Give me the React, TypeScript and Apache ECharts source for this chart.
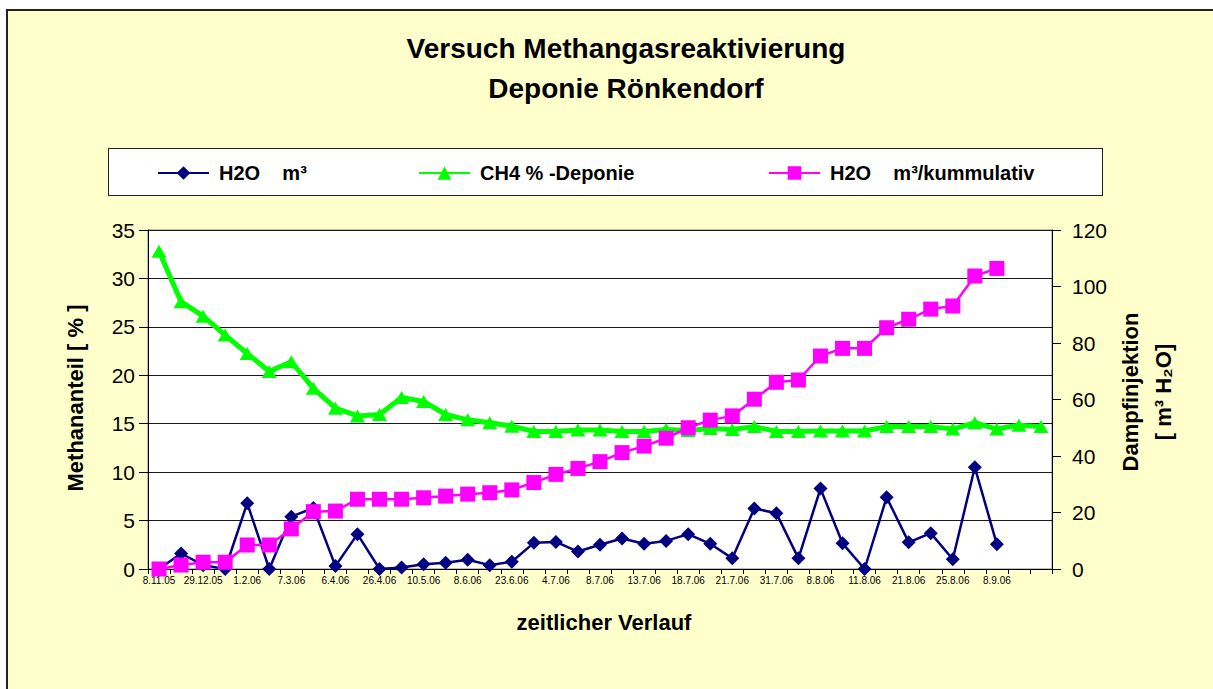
import React, { useEffect, useRef } from "react";
import * as echarts from "echarts";

const categories = [
  "8.11.05", "", "29.12.05", "", "1.2.06", "", "7.3.06", "", "6.4.06", "", "26.4.06", "",
  "10.5.06", "", "8.6.06", "", "23.6.06", "", "4.7.06", "", "8.7.06", "", "13.7.06", "",
  "18.7.06", "", "21.7.06", "", "31.7.06", "", "8.8.06", "", "11.8.06", "", "21.8.06", "",
  "25.8.06", "", "8.9.06", "", "",
];

const h2oM3 = [
  0, 1.6, 0.4, 0, 6.8, 0, 5.4, 6.3, 0.3, 3.6, 0, 0.15, 0.5, 0.65, 0.95, 0.4, 0.75, 2.7,
  2.8, 1.8, 2.5, 3.15, 2.6, 2.9, 3.6, 2.6, 1.1, 6.25, 5.75, 1.1, 8.3, 2.65, 0, 7.4, 2.75,
  3.7, 1.0, 10.5, 2.55,
];

const ch4Deponie = [
  32.8, 27.6, 26.1, 24.15, 22.25, 20.4, 21.4, 18.65, 16.6, 15.8, 15.95, 17.7, 17.3, 15.95,
  15.4, 15.1, 14.75, 14.2, 14.2, 14.35, 14.35, 14.2, 14.2, 14.4, 14.3, 14.5, 14.4, 14.7,
  14.2, 14.2, 14.25, 14.25, 14.25, 14.7, 14.7, 14.7, 14.45, 15.1, 14.45, 14.85, 14.7,
];

const h2oKumulativ = [
  0, 1.4, 2.4, 2.4, 8.5, 8.5, 14.2, 20.3, 20.5, 24.7, 24.7, 24.7, 25.2, 25.8, 26.5, 27.0,
  28.0, 30.6, 33.5, 35.6, 38.0, 41.2, 43.5, 46.3, 50.0, 52.7, 54.2, 60.1, 66.1, 66.9, 75.4,
  78.1, 78.1, 85.4, 88.4, 92.0, 93.1, 103.7, 106.4,
];

const seriesNames = ["H2O    m³", "CH4 % -Deponie", "H2O    m³/kummulativ"];
const titleText = "Versuch Methangasreaktivierung\nDeponie Rönkendorf";
const leftAxisName = "Methananteil [ % ]";
const rightAxisName = "Dampfinjektion\n[ m³ H₂O]";
const xAxisName = "zeitlicher Verlauf";

const FONT = "'Liberation Sans', Arial, sans-serif";

export default function App() {
  const ref = useRef<HTMLDivElement>(null);

  useEffect(() => {
    if (!ref.current) return;
    const chart = echarts.init(ref.current, null, { renderer: "svg" });

    const legendText = {
      fontSize: 20,
      fontWeight: "bold" as const,
      color: "#000",
      fontFamily: FONT,
      padding: [0, 0, 0, 5],
    };
    const legendBase = {
      top: 158,
      itemWidth: 51,
      itemHeight: 17,
      selectedMode: false,
      textStyle: legendText,
    };

    const option: any = {
      animation: false,
      textStyle: { fontFamily: FONT },
      grid: {
        left: 148,
        top: 230,
        width: 904,
        height: 339,
        show: true,
        backgroundColor: "#ffffff",
        borderColor: "#808080",
        borderWidth: 1,
      },
      legend: [
        { ...legendBase, left: 152, data: [seriesNames[0]] },
        { ...legendBase, left: 413, data: [seriesNames[1]] },
        { ...legendBase, left: 763, data: [seriesNames[2]] },
      ],
      xAxis: {
        type: "category",
        data: categories,
        boundaryGap: true,
        axisLine: { show: true, lineStyle: { color: "#000", width: 1 } },
        axisTick: { show: true, interval: 0, length: 5, lineStyle: { color: "#000" } },
        axisLabel: { interval: 0, fontSize: 10, color: "#000", margin: 6, fontFamily: FONT },
        splitLine: { show: false },
      },
      yAxis: [
        {
          type: "value",
          min: 0,
          max: 35,
          interval: 5,
          position: "left",
          axisLine: { show: true, lineStyle: { color: "#000" } },
          axisTick: { show: true, length: 9, lineStyle: { color: "#000" } },
          axisLabel: { fontSize: 21, color: "#000", margin: 13, fontFamily: FONT },
          splitLine: { show: true, lineStyle: { color: "#1a1a1a", width: 1 } },
        },
        {
          type: "value",
          min: 0,
          max: 120,
          interval: 20,
          position: "right",
          axisLine: { show: true, lineStyle: { color: "#000" } },
          axisTick: { show: true, length: 9, lineStyle: { color: "#000" } },
          axisLabel: { fontSize: 21, color: "#000", margin: 20, fontFamily: FONT },
          splitLine: { show: false },
        },
      ],
      series: [
        {
          name: seriesNames[0],
          type: "line",
          data: h2oM3,
          yAxisIndex: 0,
          symbol: "diamond",
          symbolSize: 14,
          showAllSymbol: true,
          itemStyle: { color: "#000080" },
          lineStyle: { color: "#000080", width: 2.5 },
          z: 2,
        },
        {
          name: seriesNames[1],
          type: "line",
          data: ch4Deponie,
          yAxisIndex: 0,
          symbol: "triangle",
          symbolSize: [15, 13],
          showAllSymbol: true,
          itemStyle: { color: "#00ff00" },
          lineStyle: { color: "#00ff00", width: 5 },
          z: 3,
        },
        {
          name: seriesNames[2],
          type: "line",
          data: h2oKumulativ,
          yAxisIndex: 1,
          symbol: "rect",
          symbolSize: 15,
          showAllSymbol: true,
          itemStyle: { color: "#ff00ff" },
          lineStyle: { color: "#ff00ff", width: 2.5 },
          z: 4,
        },
      ],
      graphic: [
        {
          type: "text",
          x: 626,
          y: 68,
          style: {
            text: titleText,
            fontSize: 28,
            fontWeight: "bold",
            fontFamily: FONT,
            fill: "#000",
            lineHeight: 40,
            align: "center",
            verticalAlign: "middle",
            textAlign: "center",
            textVerticalAlign: "middle",
          },
        },
        {
          type: "text",
          x: 75,
          y: 398,
          rotation: Math.PI / 2,
          style: {
            text: leftAxisName,
            fontSize: 22,
            fontWeight: "bold",
            fontFamily: FONT,
            fill: "#000",
            align: "center",
            verticalAlign: "middle",
            textAlign: "center",
            textVerticalAlign: "middle",
          },
        },
        {
          type: "text",
          x: 1147,
          y: 392,
          rotation: Math.PI / 2,
          style: {
            text: rightAxisName,
            fontSize: 22,
            fontWeight: "bold",
            fontFamily: FONT,
            fill: "#000",
            lineHeight: 33,
            align: "center",
            verticalAlign: "middle",
            textAlign: "center",
            textVerticalAlign: "middle",
          },
        },
        {
          type: "text",
          x: 604,
          y: 622,
          style: {
            text: xAxisName,
            fontSize: 22,
            fontWeight: "bold",
            fontFamily: FONT,
            fill: "#000",
            align: "center",
            verticalAlign: "middle",
            textAlign: "center",
            textVerticalAlign: "middle",
          },
        },
      ],
    };

    chart.setOption(option);
    return () => chart.dispose();
  }, []);

  return (
    <div
      style={{
        position: "absolute",
        left: 0,
        top: 0,
        width: 1213,
        height: 689,
        overflow: "hidden",
        background: "#ffffff",
      }}
    >
      <div
        style={{
          position: "absolute",
          left: 6,
          top: 9,
          width: 1240,
          height: 720,
          border: "2px solid #222",
          background: "#ffffcc",
        }}
      />
      <div
        style={{
          position: "absolute",
          left: 108,
          top: 148,
          width: 993,
          height: 46,
          border: "1px solid #222",
          background: "#ffffff",
        }}
      />
      <div
        ref={ref}
        style={{ position: "absolute", left: 0, top: 0, width: 1213, height: 689 }}
      />
    </div>
  );
}
